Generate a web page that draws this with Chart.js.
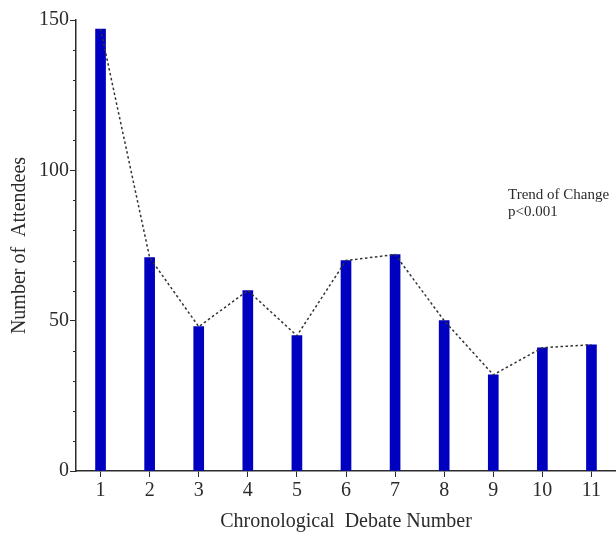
<!DOCTYPE html>
<html>
<head>
<meta charset="utf-8">
<script src="https://cdn.jsdelivr.net/npm/chart.js@4/dist/chart.umd.min.js"></script>
<style>
  body { margin: 0; background: #fff; }
  canvas { display: block; }
</style>
</head>
<body>
<canvas id="grafico" width="616" height="534"></canvas>
<script>
// Datos
const debates = ['1', '2', '3', '4', '5', '6', '7', '8', '9', '10', '11'];
const asistentes = [147, 71, 48, 60, 45, 70, 72, 50, 32, 41, 42];
const ticksY = [0, 50, 100, 150];
const nota = ['Trend of Change', 'p<0.001'];

const fuente = "'Liberation Serif', 'Times New Roman', serif";
const negro = '#2b2b2b';

// Ticks menores cada 10 en el eje Y y la nota del trend
const extras = {
  id: 'extras',
  afterDraw(chart) {
    const ctx = chart.ctx;
    const y = chart.scales.y;
    const x = chart.scales.x;
    ctx.save();
    ctx.strokeStyle = negro;
    ctx.lineWidth = 1;
    for (let v = 0; v <= 150; v += 10) {
      if (ticksY.includes(v)) continue;
      const py = Math.round(y.getPixelForValue(v)) + 0.5;
      ctx.beginPath();
      ctx.moveTo(y.right - 3, py);
      ctx.lineTo(y.right, py);
      ctx.stroke();
    }
    // nota
    const paso = x.getPixelForValue(1) - x.getPixelForValue(0);
    const nx = x.getPixelForValue(8) + paso * 0.3;
    const ny = y.getPixelForValue(90.5);
    ctx.fillStyle = negro;
    ctx.font = '15px ' + fuente;
    ctx.textAlign = 'left';
    ctx.textBaseline = 'alphabetic';
    ctx.fillText(nota[0], nx, ny);
    ctx.fillText(nota[1], nx, ny + 17);
    ctx.restore();
  }
};

new Chart(document.getElementById('grafico'), {
  data: {
    labels: debates,
    datasets: [
      {
        type: 'line',
        data: asistentes,
        borderColor: '#333',
        borderWidth: 1.5,
        borderDash: [2.5, 2.5],
        pointRadius: 0,
        tension: 0,
        order: 0
      },
      {
        type: 'bar',
        data: asistentes,
        backgroundColor: '#0000c0',
        barThickness: 10,
        order: 1
      }
    ]
  },
  options: {
    responsive: false,
    animation: false,
    layout: { padding: { top: 20, right: 0, bottom: 0, left: 0 } },
    plugins: { legend: { display: false }, tooltip: { enabled: false } },
    scales: {
      x: {
        offset: true,
        grid: { drawOnChartArea: false, tickLength: 6, color: negro, offset: false },
        border: { color: negro, width: 1.5 },
        ticks: { color: negro, font: { family: fuente, size: 20 }, padding: 2 },
        title: {
          display: true,
          text: 'Chronological  Debate Number',
          color: negro,
          font: { family: fuente, size: 20 },
          padding: { top: 2, bottom: 0 }
        },
        afterFit(s) { s.height = 63; }
      },
      y: {
        min: 0,
        max: 150,
        afterBuildTicks(s) { s.ticks = ticksY.map(v => ({ value: v })); },
        grid: { drawOnChartArea: false, tickLength: 6, color: negro },
        border: { color: negro, width: 1.5 },
        ticks: { color: negro, font: { family: fuente, size: 20 }, padding: 1 },
        title: {
          display: true,
          text: 'Number of  Attendees',
          color: negro,
          font: { family: fuente, size: 20 },
          padding: { top: 8, bottom: 0 }
        },
        afterFit(s) { s.width = 76; }
      }
    }
  },
  plugins: [extras]
});
</script>
</body>
</html>
